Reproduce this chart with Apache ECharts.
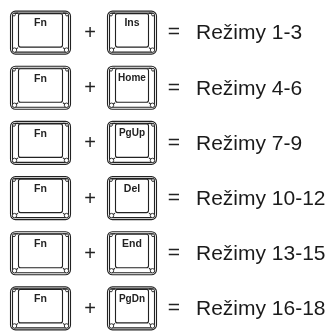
<!DOCTYPE html>
<html><head><meta charset="utf-8">
<script src="https://cdn.jsdelivr.net/npm/echarts@6/dist/echarts.min.js"></script>
<style>html,body{margin:0;padding:0;background:#fff}#c{width:330px;height:336px}</style>
</head><body><div id="c"></div>
<script>
const rows = ['r1','r2','r3','r4','r5','r6'];
const fnKeys = ['Fn','Fn','Fn','Fn','Fn','Fn'];
const secondKeys = ['Ins','Home','PgUp','Del','End','PgDn'];
const modes = ['Režimy 1-3','Režimy 4-6','Režimy 7-9','Režimy 10-12','Režimy 13-15','Režimy 16-18'];

const INK = '#222';
function key(x, cy, w, label, fs) {
  const top = cy - 22, bot = cy + 22, h = 44;
  const fl = x + 8, fr = x + w - 8, ft = top + 2.5, fb = bot - 7;
  const line = (x1,y1,x2,y2)=>({type:'line',shape:{x1,y1,x2,y2},style:{stroke:INK,lineWidth:1.1,fill:null}});
  const circ = (cx,cy2,r)=>({type:'circle',shape:{cx,cy:cy2,r},style:{stroke:INK,lineWidth:0.9,fill:'#fff'}});
  return [
    {type:'rect',shape:{x:x+0.5,y:top+0.5,width:w-1,height:h-1,r:5},style:{stroke:INK,lineWidth:1.1,fill:'#fff'}},
    {type:'rect',shape:{x:x+2.5,y:top+2.5,width:w-5,height:h-5,r:3},style:{stroke:INK,lineWidth:1.1,fill:'#fff'}},
    line(fl,ft,x+3,top+3), line(fr,ft,x+w-3,top+3),
    line(fl,fb,x+3.5,bot-3.5), line(fr,fb,x+w-3.5,bot-3.5),
    {type:'rect',shape:{x:fl+0.5,y:ft+0.5,width:fr-fl-1,height:fb-ft-1,r:2},style:{stroke:INK,lineWidth:1.1,fill:'#fff'}},
    circ(x+4.5,bot-4.5,2.2), circ(x+w-4.5,bot-4.5,2.2),
    circ(x+4,top+4,1.4), circ(x+w-4,top+4,1.4),
    {type:'text',style:{text:label,x:(fl+fr)/2,y:top+7.5,align:'center',verticalAlign:'top',
      font:'bold '+fs+'px "Liberation Sans", Arial, sans-serif',fill:INK}}
  ];
}

const chart = echarts.init(document.getElementById('c'), null, {renderer:'canvas'});
chart.setOption({
  animation:false,
  grid:{left:0,right:0,top:5,height:339},
  xAxis:{type:'value',min:0,max:330,show:false},
  yAxis:{type:'category',data:rows,inverse:true,show:false},
  series:[{
    type:'custom',
    data: rows.map((r,i)=>[0,i]),
    renderItem:function(params, api){
      const i = params.dataIndex;
      const cy = api.coord([0, api.value(1)])[1];
      const s = secondKeys[i];
      const children = []
        .concat(key(10, cy, 61, fnKeys[i], 10.5))
        .concat(key(107, cy, 50, s, s.length > 3 ? 10 : 10.5))
        .concat([
          {type:'text',style:{text:'+',x:90,y:cy+1,align:'center',verticalAlign:'middle',font:'20px "Liberation Sans", Arial, sans-serif',fill:INK}},
          {type:'text',style:{text:'=',x:174,y:cy,align:'center',verticalAlign:'middle',font:'21px "Liberation Sans", Arial, sans-serif',fill:INK}},
          {type:'text',style:{text:modes[i],x:196,y:cy+1,align:'left',verticalAlign:'middle',font:'21px "Liberation Sans", Arial, sans-serif',fill:'#1a1a1a'}}
        ]);
      return {type:'group',children};
    }
  }]
});
</script></body></html>
